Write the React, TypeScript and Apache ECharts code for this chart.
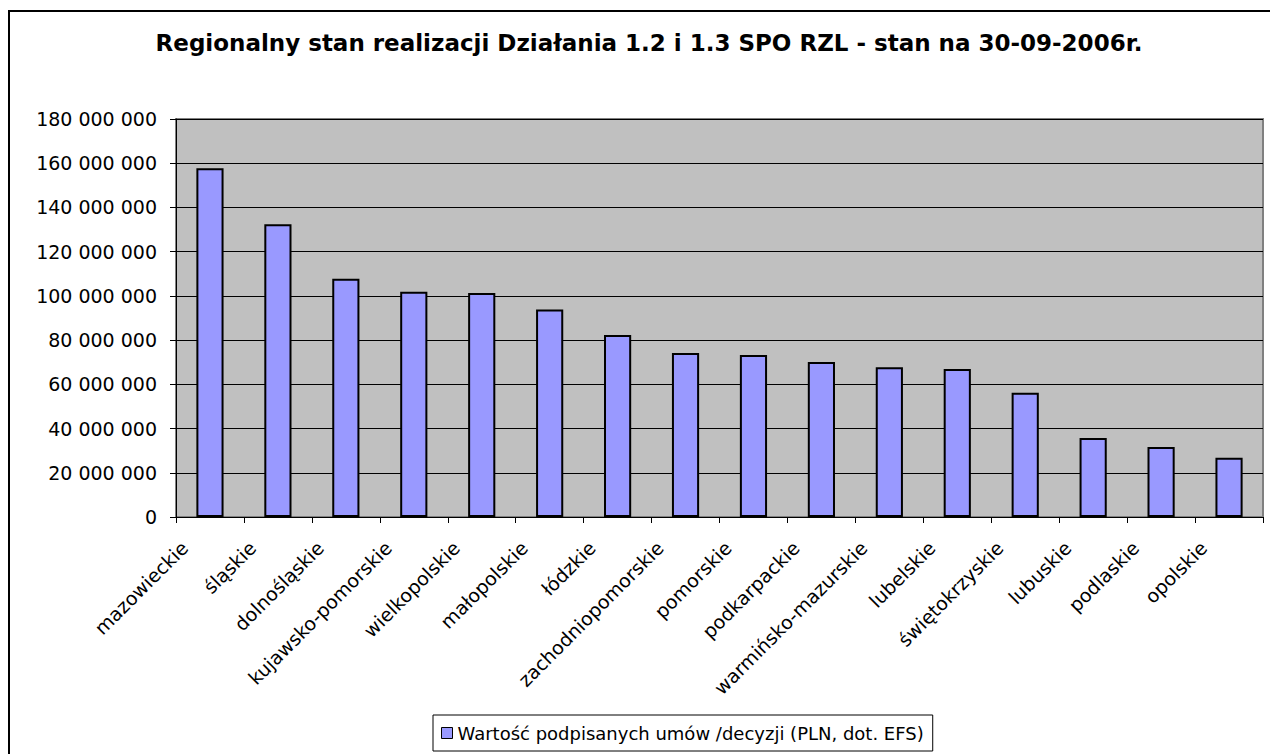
import React, { useEffect, useRef } from "react";
import * as echarts from "echarts";

const categories = [
  "mazowieckie",
  "śląskie",
  "dolnośląskie",
  "kujawsko-pomorskie",
  "wielkopolskie",
  "małopolskie",
  "łódzkie",
  "zachodniopomorskie",
  "pomorskie",
  "podkarpackie",
  "warmińsko-mazurskie",
  "lubelskie",
  "świętokrzyskie",
  "lubuskie",
  "podlaskie",
  "opolskie",
];

const values = [
  157700000, 132400000, 107800000, 101900000, 101300000, 93900000, 82300000,
  74200000, 73300000, 70100000, 67700000, 66900000, 56200000, 35700000,
  31700000, 26800000,
];

const seriesName = "Wartość podpisanych umów /decyzji (PLN, dot. EFS)";
const titleText =
  "Regionalny stan realizacji Działania 1.2 i 1.3 SPO RZL - stan na 30-09-2006r.";

const yMin = 0;
const yMax = 180000000;
const yInterval = 20000000;

const formatNumber = (v: number) =>
  String(Math.round(v)).replace(/\B(?=(\d{3})+(?!\d))/g, " ");

export default function App() {
  const ref = useRef<HTMLDivElement>(null);

  useEffect(() => {
    if (!ref.current) return;
    const chart = echarts.init(ref.current, undefined, { renderer: "svg" });
    const font = "DejaVu Sans";
    chart.setOption({
      animation: false,
      backgroundColor: "#ffffff",
      title: {
        text: titleText,
        left: 644,
        textAlign: "center",
        top: 26,
        textStyle: {
          fontFamily: font,
          fontWeight: "bold",
          fontSize: 23,
          color: "#000",
        },
      },
      graphic: [
        {
          type: "rect",
          shape: { x: 9, y: 11, width: 1300, height: 800 },
          style: { fill: "none", stroke: "#000", lineWidth: 2 },
          silent: true,
          z: 100,
        },
      ],
      legend: {
        left: 433,
        top: 715,
        orient: "horizontal",
        padding: [9, 9, 9, 8],
        itemWidth: 11,
        itemHeight: 11,
        itemGap: 8,
        borderColor: "#000",
        borderWidth: 1,
        icon: "rect",
        data: [seriesName],
        textStyle: { fontFamily: font, fontSize: 18, color: "#000" },
        itemStyle: { borderColor: "#000", borderWidth: 1 },
      },
      grid: {
        left: 176,
        right: 7,
        top: 119,
        bottom: 237,
        show: true,
        backgroundColor: "#c0c0c0",
        borderColor: "#808080",
        borderWidth: 2,
      },
      xAxis: {
        type: "category",
        data: categories,
        boundaryGap: true,
        axisLine: { show: true, lineStyle: { color: "#000", width: 1 } },
        axisTick: {
          show: true,
          alignWithLabel: false,
          length: 6,
          lineStyle: { color: "#000" },
        },
        axisLabel: {
          interval: 0,
          rotate: 45,
          margin: 2,
          padding: [0, 36, 0, 0],
          fontFamily: font,
          fontSize: 19,
          color: "#000",
        },
      },
      yAxis: {
        type: "value",
        min: yMin,
        max: yMax,
        interval: yInterval,
        axisLine: { show: true, lineStyle: { color: "#000", width: 1 } },
        axisTick: { show: true, length: 6, lineStyle: { color: "#000" } },
        axisLabel: {
          margin: 19,
          fontFamily: font,
          fontSize: 19,
          color: "#000",
          formatter: (v: number) => formatNumber(v),
        },
        splitLine: { show: true, lineStyle: { color: "#000", width: 1 } },
      },
      series: [
        {
          name: seriesName,
          type: "bar",
          data: values,
          barCategoryGap: "60%",
          itemStyle: { color: "#9999ff", borderColor: "#000", borderWidth: 2 },
        },
      ],
    });
    return () => chart.dispose();
  }, []);

  return (
    <div
      ref={ref}
      style={{ position: "fixed", left: 0, top: 0, width: 1270, height: 754 }}
    />
  );
}
